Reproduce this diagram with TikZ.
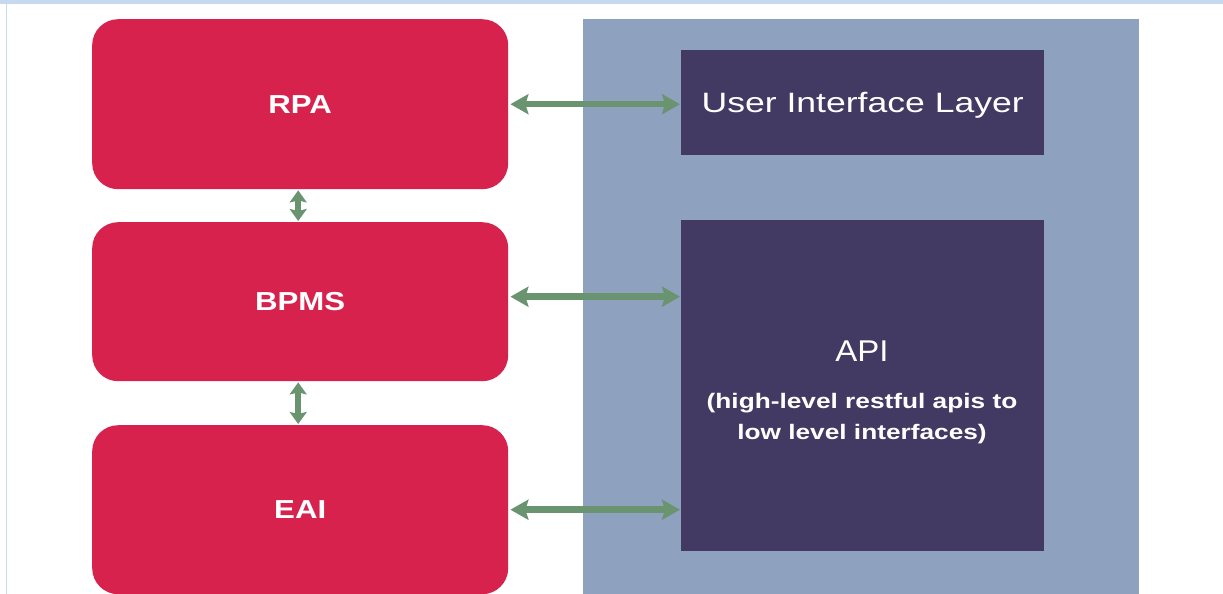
\documentclass[tikz,border=0pt]{standalone}
\usepackage{fontspec}
\setmainfont{Liberation Sans}
\usetikzlibrary{arrows.meta, positioning, calc}

\definecolor{boxred}{HTML}{D7224D}
\definecolor{panelblue}{HTML}{8EA2BF}
\definecolor{layerdark}{HTML}{433A64}
\definecolor{linkgreen}{HTML}{6A9470}
\definecolor{bandblue}{HTML}{C6D9F0}

% text in the picture is set a bit wider than the font
\newcommand{\wide}[2][1.2]{\scalebox{#1}[1]{#2}}

\begin{document}
\begin{tikzpicture}[x=1pt, y=-1pt,
            tool/.style={rectangle, rounded corners=26pt, fill=boxred, minimum width=416pt, text=white, font=\fontsize{26}{30}\selectfont\bfseries, anchor=north west, inner sep=0pt},
            layer/.style={rectangle, fill=layerdark, minimum width=363pt, text=white, anchor=north west, inner sep=0pt, align=center},
            link/.style={{Stealth[length=18pt, width=20pt, inset=3pt]}-{Stealth[length=18pt, width=20pt, inset=3pt]}, line width=6.5pt, linkgreen, shorten <=2pt, shorten >=1pt},
            vlink/.style={{Stealth[length=12pt, width=17pt, inset=2pt]}-{Stealth[length=12pt, width=17pt, inset=2pt]}, line width=6.5pt, linkgreen, shorten <=1pt, shorten >=1pt}
        ]
            \useasboundingbox (0,0) rectangle (1223,594);

            % page frame
            \fill[bandblue] (0,0) rectangle (1223,4);
            \fill[bandblue] (5.5,4) rectangle (7,594);

            % Platform panel
            \node[rectangle, fill=panelblue, minimum width=556pt, minimum height=575pt, anchor=north west, inner sep=0pt] (panel) at (583,19) {};

            % Tools
            \node[tool, minimum height=170pt] (rpa) at (92,19) {\wide{RPA}};
            \node[tool, minimum height=159pt] (bpms) at (92,222) {\wide{BPMS}};
            \node[tool, minimum height=169pt] (eai) at (92,425) {\wide{EAI}};

            % Layers
            \node[layer, minimum height=105pt, text depth=0pt, font=\fontsize{28}{32}\selectfont] (ui) at (681,50) {\wide[1.27]{User Interface Layer}};
            \node[layer, minimum height=331pt] (api) at (681,220) {};
            \node[text=white, font=\fontsize{30}{34}\selectfont] (apiname) at (862,351) {\wide[1.1]{API}};
            \node[text=white, font=\fontsize{21}{31}\selectfont\bfseries, align=center] (apitext) at (862,419) {\wide[1.25]{(high-level restful apis to}\\\wide[1.25]{low level interfaces)}};

            % Links
            \draw[link] (rpa.east) -- (rpa.east -| ui.west);
            \draw[link] ($(bpms.east)+(0,-5)$) -- ($(bpms.east -| api.west)+(0,-5)$);
            \draw[link] (eai.east) -- (eai.east -| api.west);
            \draw[vlink] ($(rpa.south)+(-2,0)$) -- ($(bpms.north)+(-2,0)$);
            \draw[vlink] ($(bpms.south)+(-2,0)$) -- ($(eai.north)+(-2,0)$);
        \end{tikzpicture}
\end{document}
